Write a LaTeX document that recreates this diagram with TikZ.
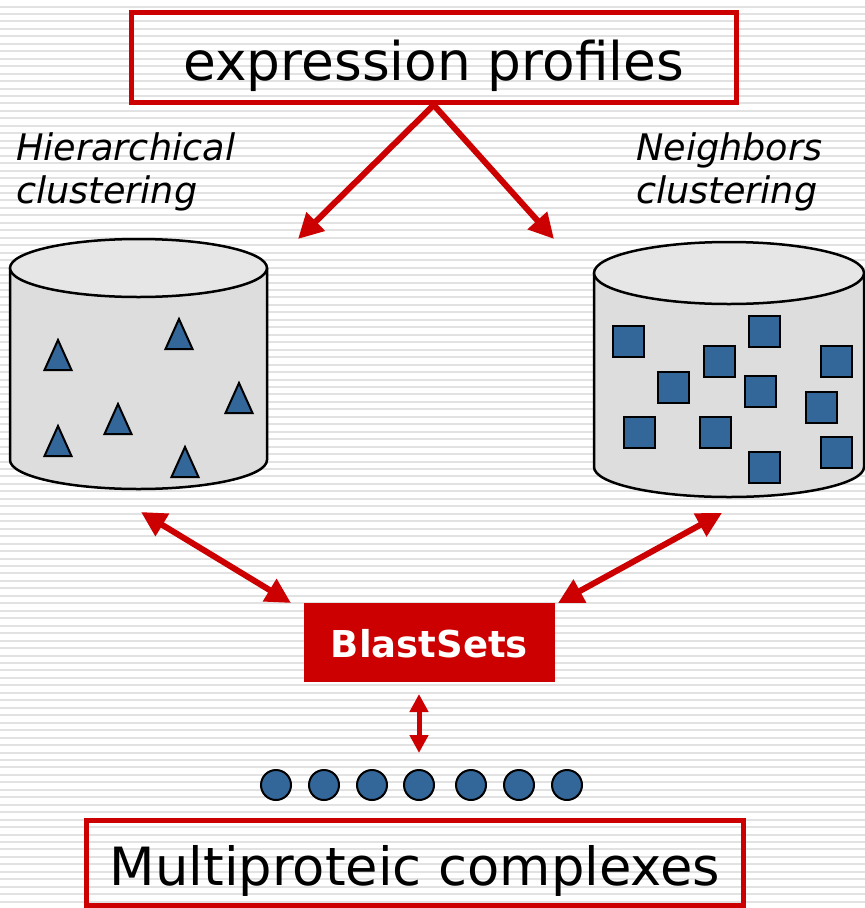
\documentclass[tikz,border=0pt]{standalone}
\usepackage{fontspec}
\setmainfont{DejaVu Sans}
\usetikzlibrary{arrows.meta}

\definecolor{slideRed}{RGB}{204,0,0}
\definecolor{itemBlue}{RGB}{51,102,153}
\definecolor{stripeGray}{RGB}{226,226,226}
\definecolor{drumSide}{RGB}{221,221,221}
\definecolor{drumTop}{RGB}{230,230,230}

\tikzset{
  stripe/.style={draw=stripeGray, line width=2pt},
  redframe/.style={draw=slideRed, line width=5pt, inner sep=0pt,
    text height=45pt, text depth=0pt},
  redfill/.style={fill=slideRed, text=white, inner sep=0pt,
    font=\bfseries\fontsize{37}{44}\selectfont, text height=29pt, text depth=0pt},
  caption/.style={anchor=base west, inner sep=0pt,
    font=\itshape\fontsize{36.6}{44}\selectfont},
  drumline/.style={draw=black, line width=2.5pt},
  item/.style={draw=black, line width=2pt, fill=itemBlue, line join=miter},
  flow/.style={draw=slideRed, line width=6pt,
    -{Triangle[length=25pt,width=25pt]}},
  flowboth/.style={draw=slideRed, line width=6pt,
    {Triangle[length=25pt,width=25pt]}-{Triangle[length=25pt,width=25pt]}},
  flowshort/.style={draw=slideRed, line width=5pt,
    {Triangle[length=18pt,width=18pt]}-{Triangle[length=18pt,width=18pt]}},
}

\begin{document}
\begin{tikzpicture}[x=1pt,y=-1pt]
  \useasboundingbox (0,0) rectangle (865,908);
  \fill[white] (0,0) rectangle (865,908);

  % ruled background
  \foreach \k in {0,...,121}
    \draw[stripe] (0,{6.5+7.46*\k}) -- (865,{6.5+7.46*\k});

  % input box
  \node[redframe, minimum width=605.5pt, minimum height=90pt,
        font=\fontsize{53.3}{60}\selectfont] (profiles) at (433.75,57.5) {expression profiles};

  % method captions
  \node[caption] (hierA) at (16,160) {Hierarchical};
  \node[caption] (hierB) at (16,203) {clustering};
  \node[caption] (neighA) at (636,160) {Neighbors};
  \node[caption] (neighB) at (636,203) {clustering};

  % left drum (hierarchical clusters)
  \fill[drumSide] (10,268) -- (10,460)
    arc[start angle=180,end angle=360,x radius=128.5pt,y radius=29pt] -- (267,268) -- cycle;
  \draw[drumline] (10,268) -- (10,460)
    arc[start angle=180,end angle=360,x radius=128.5pt,y radius=29pt] -- (267,268);
  \draw[drumline, fill=drumTop] (138.5,268) ellipse[x radius=128.5pt, y radius=29pt];
  \foreach \ax/\ay in {58/340,179/319,239/383,118/404,58/426,185/447}
    \draw[item] ({\ax-13.5},{\ay+30}) -- (\ax,\ay) -- ({\ax+13.5},{\ay+30}) -- cycle;

  % right drum (neighbour clusters)
  \fill[drumSide] (594,273) -- (594,467)
    arc[start angle=180,end angle=360,x radius=135pt,y radius=30pt] -- (864,273) -- cycle;
  \draw[drumline] (594,273) -- (594,467)
    arc[start angle=180,end angle=360,x radius=135pt,y radius=30pt] -- (864,273);
  \draw[drumline, fill=drumTop] (729,273) ellipse[x radius=135pt, y radius=31pt];
  \foreach \cx/\cy in {628/341,764/331,719/361,836/361,673.5/387,760.5/391.5,
                       821/407,639.5/432.5,715.5/432.5,836.5/452,764/467}
    \draw[item] ({\cx-15.5},{\cy-15.5}) rectangle ({\cx+15.5},{\cy+15.5});

  % central database
  \node[redfill, minimum width=251pt, minimum height=79pt] (blast) at (429.5,642.5) {BlastSets};

  % complexes row
  \foreach \dx in {276,324,372,419,471,519,567}
    \draw[item] (\dx,785) circle[radius=15pt];

  % output box
  \node[redframe, minimum width=657pt, minimum height=85pt,
        font=\fontsize{52.7}{60}\selectfont] (complexes) at (415,862.5) {Multiproteic complexes};

  % connector end points
  \coordinate (hierIn) at (298,239);
  \coordinate (neighIn) at (554,239);
  \coordinate (hierDock) at (141,512);
  \coordinate (neighDock) at (722,513);
  \coordinate (blastL) at (291,603);
  \coordinate (blastR) at (558,603);
  \coordinate (blastDown) at (419,694);
  \coordinate (rowUp) at (419,753);

  % connectors
  \draw[flow] (profiles.south) -- (hierIn);
  \draw[flow] (profiles.south) -- (neighIn);
  \draw[flowboth] (hierDock) -- (blastL);
  \draw[flowboth] (neighDock) -- (blastR);
  \draw[flowshort] (blastDown) -- (rowUp);
\end{tikzpicture}
\end{document}
